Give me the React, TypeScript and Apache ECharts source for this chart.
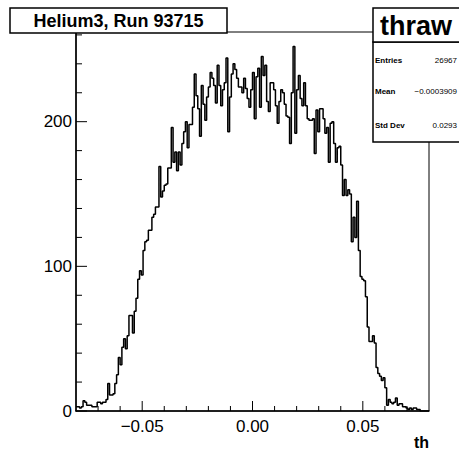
import React, { useEffect, useRef } from "react";
import * as echarts from "echarts";

// histogram "thraw": 200 bins from -0.08 to 0.08
const counts = [
  3, 3, 2, 3, 7, 6, 4, 4, 4, 3,
  3, 3, 6, 6, 5, 6, 6, 8, 19, 11,
  11, 12, 19, 25, 37, 32, 44, 50, 43, 52,
  66, 66, 54, 69, 78, 91, 97, 94, 111, 117,
  118, 125, 125, 134, 136, 141, 141, 169, 148, 152,
  156, 157, 168, 168, 196, 172, 179, 166, 179, 170,
  185, 193, 200, 182, 198, 198, 210, 233, 218, 209,
  190, 225, 212, 201, 217, 224, 234, 230, 225, 213,
  239, 225, 211, 222, 227, 244, 193, 217, 233, 240,
  236, 230, 224, 224, 220, 230, 223, 216, 210, 222,
  234, 202, 231, 237, 210, 245, 232, 239, 214, 207,
  227, 227, 222, 211, 199, 214, 222, 220, 212, 204,
  203, 185, 220, 252, 192, 222, 232, 216, 211, 227,
  211, 202, 201, 201, 202, 178, 208, 193, 209, 209,
  202, 192, 196, 172, 199, 200, 185, 172, 182, 183,
  170, 149, 160, 149, 153, 150, 117, 134, 120, 145,
  111, 93, 91, 90, 79, 58, 48, 48, 52, 47,
  30, 26, 24, 21, 23, 16, 4, 8, 6, 5,
  6, 9, 4, 5, 5, 3, 3, 2, 1, 2,
  1, 2, 2, 1, 1, 0, 0, 0, 0, 0,
];
const xMin = -0.08;
const xMax = 0.08;
const binWidth = 0.0008;
const yMax = 262;
const xMajorTicks = [-0.05, 0, 0.05];
const xMinorTicks = [-0.07, -0.06, -0.04, -0.03, -0.02, -0.01, 0.01, 0.02, 0.03, 0.04, 0.06, 0.07];
const yMajorTicks = [0, 100, 200];
const yMinorTicks = [20, 40, 60, 80, 120, 140, 160, 180, 220, 240, 260];
const titleText = "Helium3, Run 93715";
const histName = "thraw";
const statLabels = ["Entries", "Mean", "Std Dev"];
const statValues = ["26967", "\u22120.0003909", "0.0293"];
const xTitle = "th";

const FONT = "'Liberation Sans', Arial, Helvetica, sans-serif";

const W = 459;
const H = 452;
const GL = 76;
const GR = 30;
const GT = 32;
const GB = 41;
const plotW = W - GL - GR;
const plotH = H - GT - GB;

function fmtX(v: number): string {
  const s = Math.abs(v).toFixed(2);
  return v < -1e-9 ? "\u2212" + s : s;
}

export default function App() {
  const ref = useRef<HTMLDivElement>(null);
  useEffect(() => {
    if (!ref.current) return;
    const chart = echarts.init(ref.current, null, { renderer: "svg" });
    const data: number[][] = counts.map((c, i) => [xMin + i * binWidth, c]);
    data.push([xMax, counts[counts.length - 1]]);

    // tick lengths in pixels, turned into data units of the axes
    const yPerPx = yMax / plotH;
    const xPerPx = (xMax - xMin) / plotW;
    const tickSeries: any[] = [];
    const tickStyle = {
      type: "line",
      symbol: "none",
      showSymbol: false,
      silent: true,
      clip: false,
      z: 6,
      lineStyle: { color: "#000", width: 1 },
    };
    xMajorTicks.forEach((v) =>
      tickSeries.push({ ...tickStyle, data: [[v, 0], [v, 10 * yPerPx]] })
    );
    xMinorTicks.forEach((v) =>
      tickSeries.push({ ...tickStyle, data: [[v, 0], [v, 5 * yPerPx]] })
    );
    yMajorTicks.forEach((v) =>
      tickSeries.push({ ...tickStyle, data: [[xMin, v], [xMin + 11 * xPerPx, v]] })
    );
    yMinorTicks.forEach((v) =>
      tickSeries.push({ ...tickStyle, data: [[xMin, v], [xMin + 6 * xPerPx, v]] })
    );

    const statRowsY = [60, 91.5, 125];
    const graphics: any[] = [
      {
        type: "rect",
        shape: { x: 10, y: 8, width: 217, height: 25 },
        style: { fill: "#fff", stroke: "#000", lineWidth: 1.5 },
        z: 100,
      },
      {
        type: "text",
        x: 118.5,
        y: 20.5,
        style: {
          text: titleText,
          fontFamily: FONT,
          fontWeight: "bold",
          fontSize: 18,
          fill: "#000",
          align: "center",
          verticalAlign: "middle",
        },
        z: 101,
      },
      {
        // statistics box, lower part
        type: "rect",
        shape: { x: 373, y: 42, width: 100, height: 100 },
        style: { fill: "#fff", stroke: "#000", lineWidth: 1.5 },
        z: 100,
      },
      {
        // statistics box, header part (shared edge is the separator)
        type: "rect",
        shape: { x: 373, y: 8, width: 100, height: 34 },
        style: { fill: "#fff", stroke: "#000", lineWidth: 1.5 },
        z: 100,
      },
      {
        type: "text",
        x: 380,
        y: 26,
        style: {
          text: histName,
          fontFamily: FONT,
          fontWeight: "bold",
          fontSize: 27,
          fill: "#000",
          align: "left",
          verticalAlign: "middle",
        },
        z: 101,
      },
      {
        type: "text",
        x: 429,
        y: 442.5,
        style: {
          text: xTitle,
          fontFamily: FONT,
          fontWeight: "bold",
          fontSize: 16,
          fill: "#000",
          align: "right",
          verticalAlign: "middle",
        },
        z: 101,
      },
    ];
    statLabels.forEach((lab, i) => {
      graphics.push({
        type: "text",
        x: 375,
        y: statRowsY[i],
        style: {
          text: lab,
          fontFamily: FONT,
          fontWeight: "bold",
          fontSize: 8,
          fill: "#000",
          align: "left",
          verticalAlign: "middle",
        },
        z: 101,
      });
      graphics.push({
        type: "text",
        x: 457,
        y: statRowsY[i],
        style: {
          text: statValues[i],
          fontFamily: FONT,
          fontSize: 8,
          fill: "#000",
          align: "right",
          verticalAlign: "middle",
        },
        z: 101,
      });
    });

    chart.setOption({
      animation: false,
      backgroundColor: "#fff",
      grid: {
        left: GL,
        right: GR,
        top: GT,
        bottom: GB,
        show: true,
        borderColor: "#000",
        borderWidth: 1,
        backgroundColor: "transparent",
      },
      xAxis: {
        type: "value",
        min: xMin,
        max: xMax,
        position: "bottom",
        axisLine: { show: true, onZero: false, lineStyle: { color: "#000", width: 1.5 } },
        axisTick: { show: false },
        axisLabel: {
          show: true,
          customValues: xMajorTicks,
          formatter: (v: number) => fmtX(v),
          color: "#000",
          fontFamily: FONT,
          fontSize: 17,
          margin: 7,
        },
        splitLine: { show: false },
      },
      yAxis: {
        type: "value",
        min: 0,
        max: yMax,
        position: "left",
        axisLine: { show: true, onZero: false, lineStyle: { color: "#000", width: 1.5 } },
        axisTick: { show: false },
        axisLabel: {
          show: true,
          customValues: yMajorTicks,
          color: "#000",
          fontFamily: FONT,
          fontSize: 17,
          margin: 4,
        },
        splitLine: { show: false },
      },
      series: [
        {
          type: "line",
          step: "end",
          data,
          symbol: "none",
          showSymbol: false,
          lineStyle: { color: "#000", width: 1.5 },
          clip: true,
          z: 5,
        },
        ...tickSeries,
      ],
      graphic: graphics,
    });

    return () => chart.dispose();
  }, []);
  return (
    <div
      ref={ref}
      style={{ position: "absolute", left: 0, top: 0, width: W, height: H }}
    />
  );
}
